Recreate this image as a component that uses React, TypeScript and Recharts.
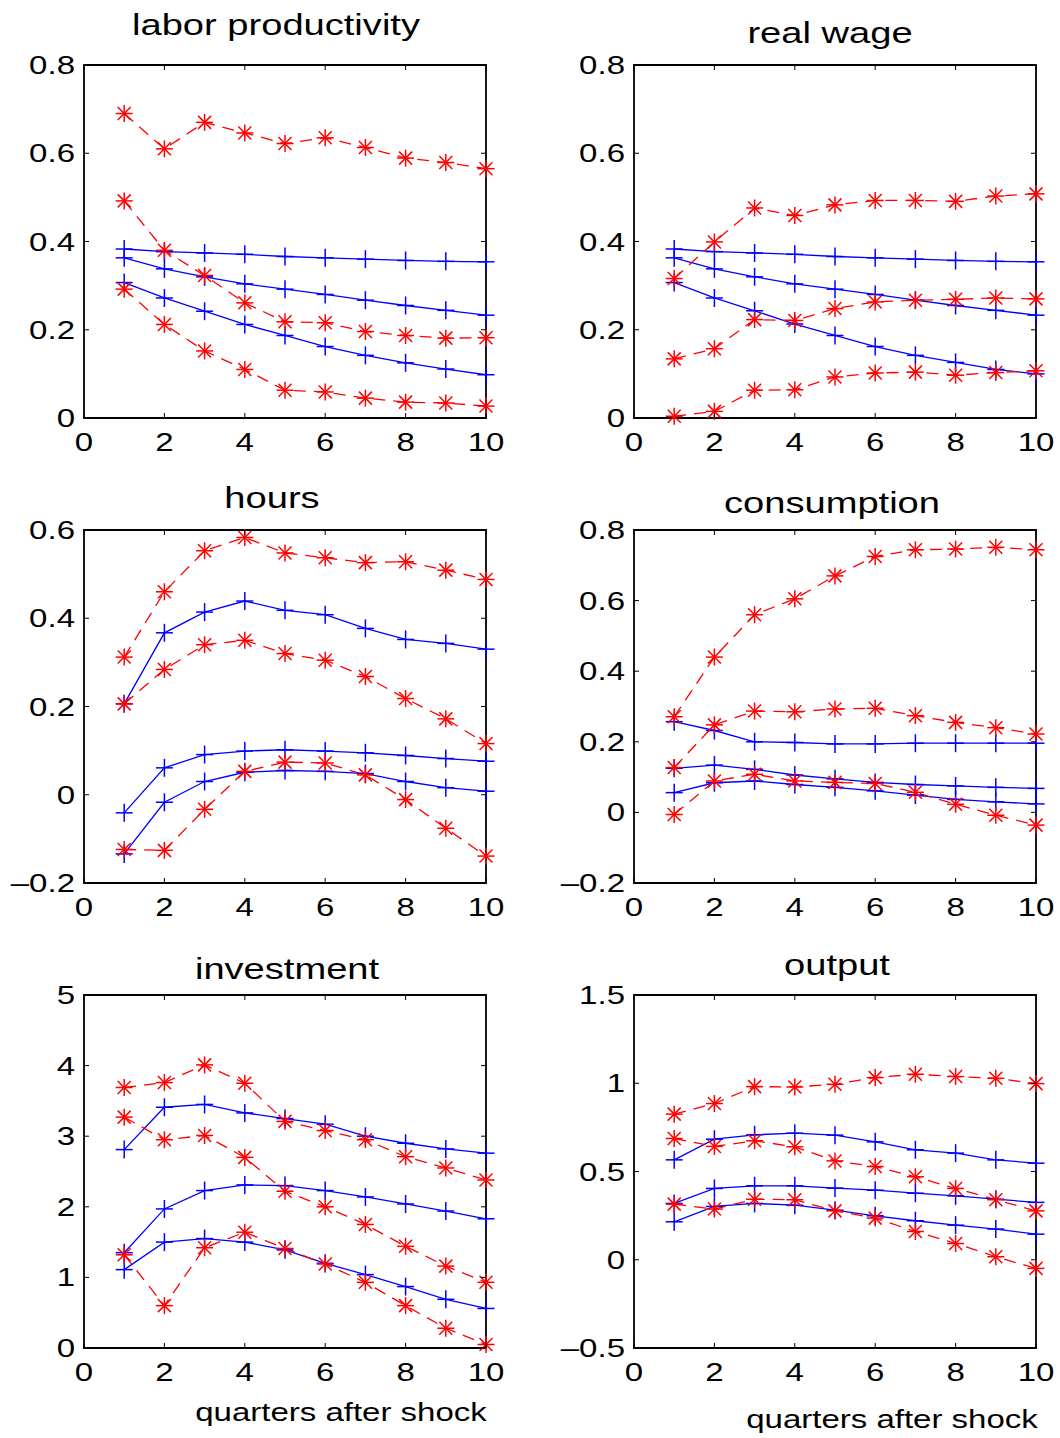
import { LineChart, Line, XAxis, YAxis, ReferenceArea } from 'recharts'

const FONT = '"Liberation Sans", Arial, Helvetica, sans-serif'
const PW = 402
const PH = 353
const ML = 80
const MT = 20
const MR = 24
const MB = 50
const STRETCH = 1.27

const quarters = [1, 2, 3, 4, 5, 6, 7, 8, 9, 10]
const xTicks = [0, 2, 4, 6, 8, 10]

// labor productivity
const lpTicks = [0, 0.2, 0.4, 0.6, 0.8]
const lpRedHi = [0.69, 0.61, 0.67, 0.646, 0.622, 0.635, 0.613, 0.589, 0.579, 0.565]
const lpRedMid = [0.492, 0.38, 0.323, 0.261, 0.218, 0.216, 0.196, 0.187, 0.181, 0.182]
const lpRedLo = [0.292, 0.212, 0.152, 0.11, 0.063, 0.059, 0.045, 0.036, 0.034, 0.027]
const lpBlueHi = [0.383, 0.377, 0.374, 0.371, 0.366, 0.363, 0.36, 0.357, 0.355, 0.354]
const lpBlueMid = [0.363, 0.338, 0.32, 0.304, 0.292, 0.28, 0.267, 0.255, 0.244, 0.233]
const lpBlueLo = [0.307, 0.272, 0.242, 0.212, 0.187, 0.162, 0.142, 0.125, 0.111, 0.098]

// real wage
const rwTicks = [0, 0.2, 0.4, 0.6, 0.8]
const rwRedHi = [0.316, 0.399, 0.476, 0.459, 0.483, 0.493, 0.493, 0.491, 0.503, 0.508]
const rwRedMid = [0.134, 0.157, 0.223, 0.221, 0.248, 0.263, 0.267, 0.269, 0.272, 0.27]
const rwRedLo = [0.004, 0.015, 0.063, 0.064, 0.093, 0.102, 0.104, 0.097, 0.103, 0.107]
const rwBlueHi = [0.383, 0.377, 0.374, 0.371, 0.366, 0.363, 0.36, 0.357, 0.355, 0.354]
const rwBlueMid = [0.363, 0.338, 0.32, 0.304, 0.292, 0.28, 0.267, 0.255, 0.244, 0.233]
const rwBlueLo = [0.307, 0.272, 0.243, 0.213, 0.187, 0.162, 0.142, 0.126, 0.11, 0.1]

// hours
const hrTicks = [-0.2, 0, 0.2, 0.4, 0.6]
const hrRedHi = [0.312, 0.46, 0.553, 0.583, 0.548, 0.537, 0.526, 0.528, 0.509, 0.488]
const hrRedMid = [0.206, 0.284, 0.34, 0.35, 0.32, 0.305, 0.268, 0.218, 0.172, 0.116]
const hrRedLo = [-0.124, -0.126, -0.033, 0.053, 0.074, 0.072, 0.045, -0.011, -0.076, -0.139]
const hrBlueHi = [0.206, 0.367, 0.414, 0.439, 0.418, 0.408, 0.377, 0.352, 0.343, 0.33]
const hrBlueMid = [-0.041, 0.061, 0.091, 0.099, 0.102, 0.099, 0.095, 0.089, 0.082, 0.076]
const hrBlueLo = [-0.134, -0.017, 0.03, 0.051, 0.055, 0.053, 0.048, 0.03, 0.016, 0.008]

// consumption
const csTicks = [-0.2, 0, 0.2, 0.4, 0.6, 0.8]
const csRedHi = [0.271, 0.44, 0.56, 0.605, 0.67, 0.725, 0.744, 0.746, 0.751, 0.744]
const csRedMid = [0.127, 0.248, 0.287, 0.285, 0.293, 0.295, 0.274, 0.255, 0.24, 0.222]
const csRedLo = [-0.006, 0.089, 0.108, 0.089, 0.085, 0.082, 0.057, 0.023, -0.008, -0.036]
const csBlueHi = [0.257, 0.232, 0.2, 0.198, 0.194, 0.194, 0.196, 0.196, 0.196, 0.196]
const csBlueMid = [0.125, 0.134, 0.122, 0.106, 0.095, 0.085, 0.079, 0.075, 0.071, 0.068]
const csBlueLo = [0.056, 0.084, 0.089, 0.079, 0.071, 0.061, 0.049, 0.037, 0.03, 0.024]

// investment
const ivTicks = [0, 1, 2, 3, 4, 5]
const ivRedHi = [3.69, 3.76, 4.01, 3.75, 3.21, 3.08, 2.95, 2.71, 2.55, 2.38]
const ivRedMid = [3.27, 2.95, 3.01, 2.7, 2.22, 2.0, 1.75, 1.44, 1.16, 0.93]
const ivRedLo = [1.32, 0.6, 1.42, 1.64, 1.41, 1.19, 0.93, 0.6, 0.28, 0.05]
const ivBlueHi = [2.81, 3.41, 3.45, 3.33, 3.25, 3.17, 3.0, 2.9, 2.82, 2.76]
const ivBlueMid = [1.35, 1.97, 2.23, 2.31, 2.3, 2.23, 2.14, 2.04, 1.94, 1.83]
const ivBlueLo = [1.11, 1.5, 1.55, 1.5, 1.39, 1.2, 1.04, 0.87, 0.69, 0.56]

// output
const otTicks = [-0.5, 0, 0.5, 1, 1.5]
const otRedHi = [0.825, 0.885, 0.981, 0.979, 0.994, 1.032, 1.051, 1.038, 1.028, 0.998]
const otRedMid = [0.687, 0.642, 0.674, 0.64, 0.56, 0.528, 0.47, 0.404, 0.34, 0.277]
const otRedLo = [0.315, 0.287, 0.343, 0.34, 0.277, 0.236, 0.16, 0.092, 0.017, -0.049]
const otBlueHi = [0.566, 0.683, 0.708, 0.717, 0.706, 0.668, 0.623, 0.604, 0.566, 0.547]
const otBlueMid = [0.319, 0.404, 0.419, 0.419, 0.406, 0.394, 0.377, 0.362, 0.343, 0.325]
const otBlueLo = [0.215, 0.302, 0.319, 0.309, 0.281, 0.249, 0.221, 0.196, 0.174, 0.145]

const panels = [
  { title: 'labor productivity', left: 84, top: 65, tx: 276, ty: 35, ticks: lpTicks, red: [lpRedHi, lpRedMid, lpRedLo], blue: [lpBlueHi, lpBlueMid, lpBlueLo] },
  { title: 'real wage', left: 634, top: 65, tx: 830, ty: 43, ticks: rwTicks, red: [rwRedHi, rwRedMid, rwRedLo], blue: [rwBlueHi, rwBlueMid, rwBlueLo] },
  { title: 'hours', left: 84, top: 530, tx: 272, ty: 508, ticks: hrTicks, red: [hrRedHi, hrRedMid, hrRedLo], blue: [hrBlueHi, hrBlueMid, hrBlueLo] },
  { title: 'consumption', left: 634, top: 530, tx: 832, ty: 513, ticks: csTicks, red: [csRedHi, csRedMid, csRedLo], blue: [csBlueHi, csBlueMid, csBlueLo] },
  { title: 'investment', left: 84, top: 995, tx: 287, ty: 979, ticks: ivTicks, red: [ivRedHi, ivRedMid, ivRedLo], blue: [ivBlueHi, ivBlueMid, ivBlueLo] },
  { title: 'output', left: 634, top: 995, tx: 837, ty: 975, ticks: otTicks, red: [otRedHi, otRedMid, otRedLo], blue: [otBlueHi, otBlueMid, otBlueLo] },
]

const xLabels = [
  { x: 341, y: 1421 },
  { x: 892, y: 1428 },
]

function fmt(v: number) {
  const s = String(Math.abs(v))
  return v < 0 ? '\u2013' + s : s
}

function YTick(props: any) {
  const { x, y, payload } = props
  return (
    <g>
      <line x1={x} x2={x + 5} y1={y} y2={y} stroke="#000" />
      <line x1={x + PW - 5} x2={x + PW} y1={y} y2={y} stroke="#000" />
      <text
        transform={`translate(${x - 9},${y + 9}) scale(${STRETCH},1)`}
        textAnchor="end"
        fontSize={26}
        fontFamily={FONT}
        fill="#000"
      >
        {fmt(payload.value)}
      </text>
    </g>
  )
}

function XTick(props: any) {
  const { x, y, payload } = props
  return (
    <g>
      <line x1={x} x2={x} y1={y} y2={y - 5} stroke="#000" />
      <line x1={x} x2={x} y1={y - PH} y2={y - PH + 5} stroke="#000" />
      <text
        transform={`translate(${x},${y + 33}) scale(${STRETCH},1)`}
        textAnchor="middle"
        fontSize={26}
        fontFamily={FONT}
        fill="#000"
      >
        {fmt(payload.value)}
      </text>
    </g>
  )
}

function Asterisk({ cx, cy }: { cx: number; cy: number }) {
  const r = 8.5
  const d = 6.5
  return (
    <g stroke="#ff0000" strokeWidth={1.5}>
      <line x1={cx - r} x2={cx + r} y1={cy} y2={cy} />
      <line x1={cx} x2={cx} y1={cy - r} y2={cy + r} />
      <line x1={cx - d} x2={cx + d} y1={cy - d} y2={cy + d} />
      <line x1={cx - d} x2={cx + d} y1={cy + d} y2={cy - d} />
    </g>
  )
}

function Plus({ cx, cy }: { cx: number; cy: number }) {
  return (
    <g stroke="#0000ff" strokeWidth={1.5}>
      <line x1={cx - 8.5} x2={cx + 8.5} y1={cy} y2={cy} />
      <line x1={cx} x2={cx} y1={cy - 9} y2={cy + 9} />
    </g>
  )
}

function Panel({ p }: { p: (typeof panels)[number] }) {
  const data = quarters.map((q, i) => ({
    q,
    b0: p.blue[0][i],
    b1: p.blue[1][i],
    b2: p.blue[2][i],
    r0: p.red[0][i],
    r1: p.red[1][i],
    r2: p.red[2][i],
  }))
  const lo = p.ticks[0]
  const hi = p.ticks[p.ticks.length - 1]
  return (
    <div style={{ position: 'absolute', left: p.left - ML, top: p.top - MT }}>
      <LineChart
        width={ML + PW + MR}
        height={MT + PH + MB}
        data={data}
        margin={{ top: MT, right: MR, bottom: MB - 1, left: ML - 1 }}
      >
        <XAxis
          type="number"
          dataKey="q"
          domain={[0, 10]}
          ticks={xTicks}
          interval={0}
          height={1}
          tickSize={0}
          tickMargin={0}
          axisLine={false}
          tick={(t: any) => <XTick {...t} />}
        />
        <YAxis
          type="number"
          domain={[lo, hi]}
          ticks={p.ticks}
          interval={0}
          width={1}
          tickSize={0}
          tickMargin={0}
          axisLine={false}
          tick={(t: any) => <YTick {...t} />}
        />
        <ReferenceArea x1={0} x2={10} y1={lo} y2={hi} fill="none" fillOpacity={0} stroke="#000" strokeWidth={1.8} />
        {['b0', 'b1', 'b2'].map((k) => (
          <Line
            key={k}
            type="linear"
            dataKey={k}
            stroke="#0000ff"
            strokeWidth={1.3}
            isAnimationActive={false}
            dot={(d: any) => <Plus key={k + d.index} cx={d.cx} cy={d.cy} />}
          />
        ))}
        {['r0', 'r1', 'r2'].map((k) => (
          <Line
            key={k}
            type="linear"
            dataKey={k}
            stroke="#ff0000"
            strokeWidth={1.3}
            strokeDasharray="12 8"
            isAnimationActive={false}
            dot={(d: any) => <Asterisk key={k + d.index} cx={d.cx} cy={d.cy} />}
          />
        ))}
      </LineChart>
    </div>
  )
}

export default function App() {
  return (
    <div
      style={{
        position: 'absolute',
        left: 0,
        top: 0,
        width: 1060,
        height: 1438,
        background: '#fff',
        overflow: 'hidden',
      }}
    >
      {panels.map((p) => (
        <Panel key={p.title} p={p} />
      ))}
      <svg width={1060} height={1438} style={{ position: 'absolute', left: 0, top: 0, pointerEvents: 'none' }}>
        {panels.map((p) => (
          <text
            key={p.title}
            transform={`translate(${p.tx},${p.ty}) scale(${STRETCH},1)`}
            textAnchor="middle"
            fontSize={30}
            fontFamily={FONT}
            fill="#000"
          >
            {p.title}
          </text>
        ))}
        {xLabels.map((l, i) => (
          <text
            key={i}
            transform={`translate(${l.x},${l.y}) scale(${STRETCH},1)`}
            textAnchor="middle"
            fontSize={26}
            fontFamily={FONT}
            fill="#000"
          >
            quarters after shock
          </text>
        ))}
      </svg>
    </div>
  )
}
